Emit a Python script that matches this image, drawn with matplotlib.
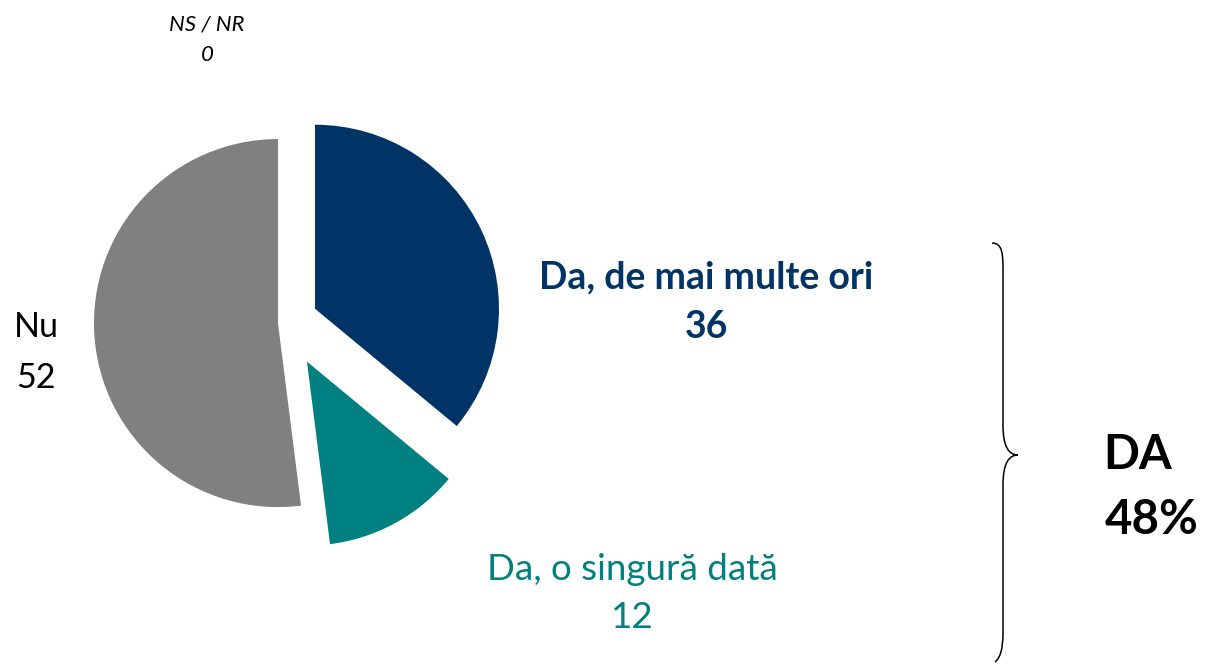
import numpy as np
import matplotlib.pyplot as plt
from matplotlib.path import Path
from matplotlib.patches import PathPatch

plt.rcParams['font.family'] = ['Lato', 'DejaVu Sans']

# data
labels = ['Da, de mai multe ori', 'Da, o singură dată', 'Nu', 'NS / NR']
values = [36, 12, 52, 0]
colors = ['#003366', '#008080', '#808080', '#d9d9d9']
explode = [0.177, 0.242, 0.041, 0.0]
total_da = 48

W, H = 1205, 665
fig = plt.figure(figsize=(W / 100, H / 100), dpi=100)

# pie axes in units of the radius (184 px), centre at pixel (285.5, 322.6)
cx, cy, r = 285.5, 322.6, 184
ax = fig.add_axes([0, 0, 1, 1])
ax.pie(values, explode=explode, colors=colors, startangle=90,
       counterclock=False, radius=1, wedgeprops=dict(linewidth=0))
ax.set_aspect('auto')
ax.set_xlim(-cx / r, (W - cx) / r)
ax.set_ylim(-(H - cy) / r, cy / r)
ax.axis('off')

# overlay in pixel coordinates for labels and the brace
ov = fig.add_axes([0, 0, 1, 1])
ov.set_xlim(0, W)
ov.set_ylim(H, 0)
ov.axis('off')

ov.text(706, 277, labels[0], ha='center', va='center', fontsize=27,
        fontweight='bold', color=colors[0])
ov.text(706, 327, str(values[0]), ha='center', va='center', fontsize=27,
        fontweight='bold', color=colors[0])

ov.text(632, 570, labels[1], ha='center', va='center', fontsize=26.5,
        color=colors[1])
ov.text(632, 617, str(values[1]), ha='center', va='center', fontsize=26.5,
        color=colors[1])

ov.text(36, 327, labels[2], ha='center', va='center', fontsize=24.5, color='black')
ov.text(36, 378, str(values[2]), ha='center', va='center', fontsize=24.5, color='black')

ov.text(207, 24, labels[3], ha='center', va='center', fontsize=16,
        style='italic', color='black')
ov.text(207, 55, str(values[3]), ha='center', va='center', fontsize=16,
        style='italic', color='black')

ov.text(1138, 455, 'DA', ha='center', va='center', fontsize=34,
        fontweight='bold', color='black')
ov.text(1152, 520, f'{total_da}%', ha='center', va='center', fontsize=34,
        fontweight='bold', color='black')

# right curly brace
top, mid, bot = 243, 455, 662
x0, xs, xt = 992, 1003, 1018
verts = [(x0, top), (xs, top), (xs, top + 12), (xs, top + 30),
         (xs, mid - 30),
         (xs, mid - 8), (xs + 6, mid), (xt, mid),
         (xs + 6, mid), (xs, mid + 8), (xs, mid + 30),
         (xs, bot - 30),
         (xs, bot - 12), (xs - 3, bot - 4), (x0 + 3, bot)]
codes = [Path.MOVETO, Path.CURVE4, Path.CURVE4, Path.LINETO,
         Path.LINETO,
         Path.CURVE4, Path.CURVE4, Path.CURVE4,
         Path.CURVE4, Path.CURVE4, Path.CURVE4,
         Path.LINETO,
         Path.CURVE4, Path.CURVE4, Path.CURVE4]
ov.add_patch(PathPatch(Path(verts, codes), facecolor='none',
                       edgecolor='black', linewidth=1.1))

fig.savefig('out.png', dpi=100, facecolor='white')
